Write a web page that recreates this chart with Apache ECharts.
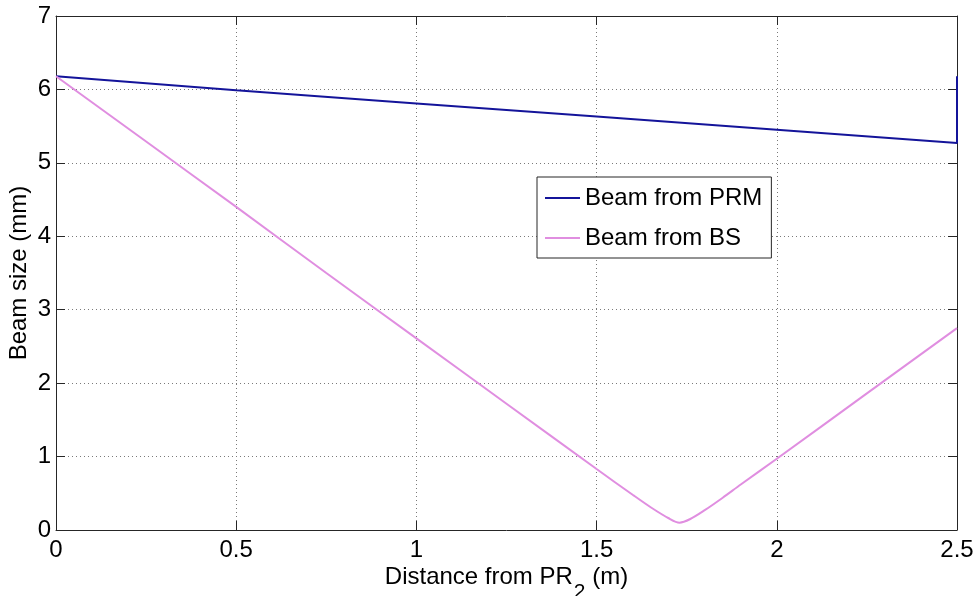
<!DOCTYPE html>
<html>
<head>
<meta charset="utf-8">
<script src="https://cdn.jsdelivr.net/npm/echarts@6/dist/echarts.min.js"></script>
<style>
html,body{margin:0;padding:0;background:#fff;}
#c{width:978px;height:596px;}
</style>
</head>
<body>
<div id="c"></div>
<script>
// Data
const prmX = [0, 0.5, 1.0, 1.5, 2.0, 2.5, 2.5];
const prmY = [6.18, 5.99, 5.81, 5.63, 5.45, 5.27, 6.18];

const bsX = [0, 0.25, 0.5, 0.75, 1.0, 1.25, 1.5, 1.6, 1.65, 1.7, 1.73, 1.76, 1.8, 1.85, 1.9, 2.0, 2.25, 2.5];
const bsY = [6.18, 5.29, 4.40, 3.50, 2.61, 1.72, 0.83, 0.48, 0.31, 0.16, 0.10, 0.15, 0.27, 0.44, 0.62, 0.97, 1.86, 2.75];

const seriesNames = ['Beam from PRM', 'Beam from BS'];
const xTicks = [0, 0.5, 1, 1.5, 2, 2.5];
const yTicks = [0, 1, 2, 3, 4, 5, 6, 7];

const FONT = 'Liberation Sans, Arial, sans-serif';
const pairs = (xs, ys) => xs.map((x, i) => [x, ys[i]]);

const chart = echarts.init(document.getElementById('c'));
const gridLine = { show: true, lineStyle: { color: '#7a7a7a', type: [1, 3], width: 1 } };
const axisLine = { show: true, onZero: false, lineStyle: { color: '#262626', width: 1 } };
const tick = { show: true, inside: true, length: 9, lineStyle: { color: '#262626' } };

chart.setOption({
  animation: false,
  backgroundColor: '#ffffff',
  textStyle: { fontFamily: FONT },
  grid: { left: 56, top: 16, right: 21, bottom: 66, containLabel: false, outerBoundsMode: 'none' },
  legend: {
    orient: 'vertical',
    left: 537, top: 177,
    padding: [9, 9, 8, 8],
    itemGap: 16,
    itemWidth: 35, itemHeight: 2,
    icon: 'rect',
    backgroundColor: '#fff',
    borderColor: '#262626', borderWidth: 1,
    textStyle: { fontSize: 24, color: '#000', fontFamily: FONT, padding: [0, 0, 0, 0] },
    data: seriesNames
  },
  xAxis: [{
    type: 'value', min: xTicks[0], max: xTicks[xTicks.length - 1], interval: 0.5,
    position: 'bottom',
    axisLine: axisLine, axisTick: tick, splitLine: gridLine,
    axisLabel: { fontSize: 24, color: '#000', margin: 8, fontFamily: FONT },
    name: '{n|Distance from PR}{s|2}{n| (m)}',
    nameLocation: 'middle', nameGap: 35, nameMoveOverlap: false,
    nameTextStyle: {
      rich: {
        n: { fontSize: 24, color: '#000', fontFamily: FONT, lineHeight: 26, verticalAlign: 'top' },
        s: { fontSize: 21, color: '#000', fontFamily: FONT, lineHeight: 26, verticalAlign: 'top', padding: [17, 0, 0, 1] }
      }
    }
  }, {
    type: 'value', min: xTicks[0], max: xTicks[xTicks.length - 1], interval: 0.5,
    position: 'top',
    axisLine: axisLine, axisTick: tick, splitLine: { show: false },
    axisLabel: { show: false }
  }],
  yAxis: [{
    type: 'value', min: yTicks[0], max: yTicks[yTicks.length - 1], interval: 1,
    position: 'left',
    axisLine: axisLine, axisTick: tick, splitLine: gridLine,
    axisLabel: { fontSize: 24, color: '#000', margin: 5, fontFamily: FONT },
    name: 'Beam size (mm)', nameLocation: 'middle', nameGap: 25, nameMoveOverlap: false,
    nameTextStyle: { fontSize: 24, color: '#000', fontFamily: FONT }
  }, {
    type: 'value', min: yTicks[0], max: yTicks[yTicks.length - 1], interval: 1,
    position: 'right',
    axisLine: axisLine, axisTick: tick, splitLine: { show: false },
    axisLabel: { show: false }
  }],
  series: [{
    name: seriesNames[0], type: 'line', data: pairs(prmX, prmY),
    showSymbol: false, symbol: 'none',
    lineStyle: { color: '#14149a', width: 2 }, itemStyle: { color: '#14149a' }
  }, {
    name: seriesNames[1], type: 'line', data: pairs(bsX, bsY),
    showSymbol: false, symbol: 'none', smooth: 0.3,
    lineStyle: { color: '#e08ee0', width: 2 }, itemStyle: { color: '#e08ee0' }
  }]
});
</script>
</body>
</html>
